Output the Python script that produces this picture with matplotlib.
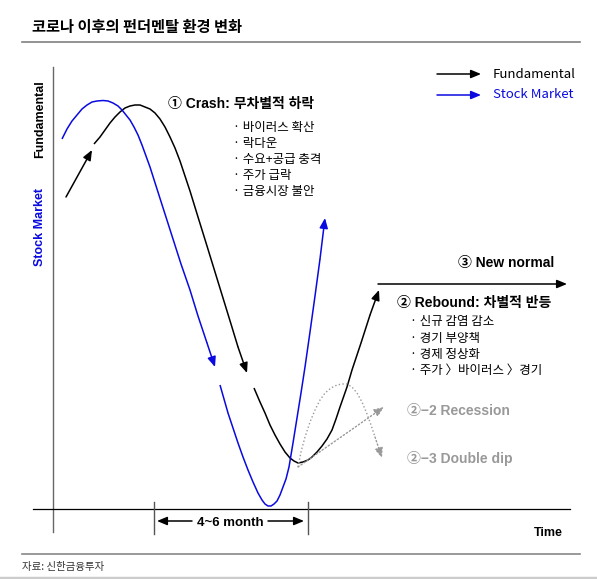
import matplotlib
matplotlib.use('Agg')
import matplotlib.pyplot as plt

plt.rcParams['font.family'] = ['Liberation Sans', 'Noto Sans CJK KR', 'DejaVu Sans']

BLUE = '#0a0ae0'
GRAY = '#999999'

# curve points (pixel coords, y down)
fund_in_x = [66, 92]
fund_in_y = [197, 150]
fund_crash_x = [94, 100, 105, 110, 115, 120, 125, 130, 135, 140, 145, 150, 155, 160, 165,
                170, 175, 180, 185, 190, 198, 207, 215, 223, 231, 238, 247]
fund_crash_y = [144, 137, 130, 123, 117, 112, 108, 106, 105, 105, 107, 109, 113, 119, 127,
                137, 148, 161, 176, 191, 217, 246, 272, 298, 324, 347, 373]
fund_rebound_x = [254, 260, 265, 270, 275, 280, 285, 290, 294, 298, 303, 308, 312, 317, 322,
                  327, 332, 336, 340, 347, 352, 361, 370, 379]
fund_rebound_y = [388, 402, 413, 425, 435, 444, 452, 458, 461, 463, 462, 460, 457, 452, 446,
                  439, 430, 419, 407, 387, 370, 343, 315, 290]

stock_crash_x = [62, 67, 72, 77, 82, 87, 92, 97, 103, 108, 113, 118, 122, 126, 130, 134, 138,
                 142, 146, 150, 157, 165, 173, 181, 190, 198, 207, 215]
stock_crash_y = [139, 129, 121, 115, 109, 105, 102, 101, 100.5, 101, 103, 106, 110, 115, 120,
                 127, 135, 145, 156, 167, 189, 214, 239, 264, 290, 316, 343, 367]
stock_rebound_x = [220, 224, 228, 233, 238, 243, 248, 253, 258, 262, 265, 268, 271, 274, 277,
                   280, 283, 286, 289, 293, 297, 301, 305, 310, 315, 320, 325]
stock_rebound_y = [385, 399, 413, 428, 443, 457, 470, 482, 493, 500, 504, 506, 506, 504, 501,
                   495, 487, 479, 467, 443, 418, 393, 367, 332, 296, 259, 218]

dip_x = [298, 301, 305, 310, 315, 320, 325, 331, 337, 342, 347, 352, 357, 362, 367, 371, 375, 382]
dip_y = [467, 452, 437, 422, 410, 400, 393, 388, 385, 384, 384, 387, 393, 402, 414, 425, 437, 458]
rec_x = [298, 384]
rec_y = [467, 407]

crash_items = ['· 바이러스 확산', '· 락다운', '· 수요+공급 충격', '· 주가 급락', '· 금융시장 불안']
rebound_items = ['· 신규 감염 감소', '· 경기 부양책', '· 경제 정상화', '· 주가 〉바이러스 〉경기']


def arrow_line(ax, xs, ys, color, ls='-', lw=1.1):
    ax.plot(xs[:-1], ys[:-1], color=color, lw=lw, ls=ls, solid_capstyle='butt',
            solid_joinstyle='round')
    ax.annotate('', xy=(xs[-1], ys[-1]), xytext=(xs[-2], ys[-2]),
                arrowprops=dict(arrowstyle='-|>,head_length=0.6,head_width=0.25',
                                color=color, lw=lw, ls=ls, shrinkA=0, shrinkB=0))


fig = plt.figure(figsize=(5.97, 5.79), dpi=100)
ax = fig.add_axes([0, 0, 1, 1])
ax.set_xlim(0, 597)
ax.set_ylim(579, 0)
ax.axis('off')

# title
ax.text(32, 27, '코로나 이후의 펀더멘탈 환경 변화', fontsize=11, fontweight='bold',
        family=['Noto Sans CJK KR'], va='center', ha='left')
ax.plot([22, 580], [42, 42], color='#808080', lw=1.2)

# axes of the sketch
ax.plot([53, 53], [67, 532], color='#666666', lw=1.0)
ax.plot([33, 570], [509, 509], color='black', lw=0.9)
ax.plot([154, 154], [502, 534], color='#555555', lw=1.0)
ax.plot([308, 308], [502, 534], color='#555555', lw=1.0)
ax.annotate('', xy=(157, 521), xytext=(192, 521),
            arrowprops=dict(arrowstyle='-|>,head_length=0.6,head_width=0.25', color='black',
                            lw=1.1, shrinkA=0, shrinkB=0))
ax.annotate('', xy=(304, 521), xytext=(268, 521),
            arrowprops=dict(arrowstyle='-|>,head_length=0.6,head_width=0.25', color='black',
                            lw=1.1, shrinkA=0, shrinkB=0))
ax.text(230, 523, '4~6 month', fontsize=9.5, fontweight='bold', ha='center', va='center')
ax.text(548, 533, 'Time', fontsize=9, fontweight='bold', ha='center', va='center')

ax.text(40, 119, 'Fundamental', fontsize=9, fontweight='bold', rotation=90,
        ha='center', va='center')
ax.text(40, 227, 'Stock Market', fontsize=9, fontweight='bold', rotation=90,
        ha='center', va='center', color=BLUE)

# legend
arrow_line(ax, [437, 481], [74, 74], 'black')
arrow_line(ax, [437, 481], [95, 95], BLUE)
ax.text(493, 74, 'Fundamental', fontsize=9.5, family=['Noto Sans CJK KR'], va='center')
ax.text(493, 95, 'Stock Market', fontsize=9.5, family=['Noto Sans CJK KR'], va='center',
        color=BLUE)

# curves
arrow_line(ax, fund_in_x, fund_in_y, 'black')
arrow_line(ax, fund_crash_x, fund_crash_y, 'black')
arrow_line(ax, fund_rebound_x, fund_rebound_y, 'black')
arrow_line(ax, stock_crash_x, stock_crash_y, BLUE)
arrow_line(ax, stock_rebound_x, stock_rebound_y, BLUE)
arrow_line(ax, dip_x, dip_y, GRAY, ls=':', lw=1.0)
arrow_line(ax, rec_x, rec_y, GRAY, ls=':', lw=1.0)

# new normal arrow
arrow_line(ax, [378, 567], [284, 284], 'black')

# annotations
ax.text(168, 104, '① Crash: 무차별적 하락', fontsize=10, fontweight='bold', va='center')
for i, t in enumerate(crash_items):
    ax.text(233, 128 + i * 16, t, fontsize=9, family=['Noto Sans CJK KR'], va='center')

ax.text(458, 263, '③ New normal', fontsize=10, fontweight='bold', va='center')
ax.text(397, 303, '② Rebound: 차별적 반등', fontsize=10, fontweight='bold', va='center')
for i, t in enumerate(rebound_items):
    ax.text(410, 322 + i * 16.3, t, fontsize=9, family=['Noto Sans CJK KR'], va='center')

ax.text(407, 411, '②−2 Recession', fontsize=10, fontweight='bold', va='center', color=GRAY)
ax.text(407, 459, '②−3 Double dip', fontsize=10, fontweight='bold', va='center', color=GRAY)

# footer
ax.plot([22, 580], [554, 554], color='#888888', lw=1.2)
ax.text(22, 567, '자료: 신한금융투자', fontsize=7.5, family=['Noto Sans CJK KR'],
        va='center', color='#333333')
ax.plot([0, 597], [577.5, 577.5], color='#cccccc', lw=2.5)

fig.savefig('out.png', dpi=100)
